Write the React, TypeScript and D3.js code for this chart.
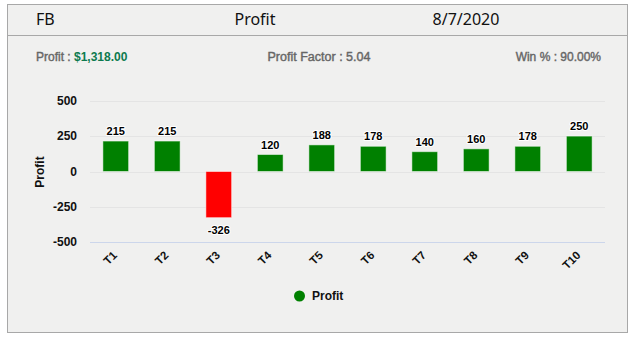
import React from "react";
import * as d3 from "d3";

const categories = ["T1", "T2", "T3", "T4", "T5", "T6", "T7", "T8", "T9", "T10"];
const profits = [215, 215, -326, 120, 188, 178, 140, 160, 178, 250];
const yTicks = [-500, -250, 0, 250, 500];
const headerLeft = "FB";
const headerTitle = "Profit";
const headerDate = "8/7/2020";
const statProfitLabel = "Profit : ";
const statProfitValue = "$1,318.00";
const statFactor = "Profit Factor : 5.04";
const statWin = "Win % : 90.00%";
const seriesName = "Profit";

const W = 634;
const H = 338;
const plotLeft = 90;
const plotRight = 605;
const green = "#008000";
const red = "#ff0000";

export default function App() {
  const x = d3.scaleBand<string>().domain(categories).range([plotLeft, plotRight]).paddingInner(0.5).paddingOuter(0.25);
  const y = d3.scaleLinear().domain([-500, 500]).range([242.3, 100.7]);
  const font = "'Liberation Sans', Arial, sans-serif";
  const headFont = "'Noto Sans', 'Open Sans', sans-serif";
  const y0 = y(0);

  return (
    <svg width={W} height={H} style={{ position: "absolute", left: 0, top: 0 }} fontFamily={font}>
      <rect x={0} y={0} width={W} height={H} fill="#ffffff" />
      <rect x={8} y={5} width={620} height={328} fill="#bdbdbd" />
      <rect x={7.5} y={4.5} width={620} height={328} fill="#f0f0ef" stroke="#a8a8a8" />
      <line x1={7} x2={628} y1={35.5} y2={35.5} stroke="#a8a8a8" />
      <text x={36} y={25} fontFamily={headFont} fontSize={16} fill="#111">{headerLeft}</text>
      <text x={255} y={25} fontFamily={headFont} fontSize={16} fill="#111" textAnchor="middle">{headerTitle}</text>
      <text x={466} y={25} fontFamily={headFont} fontSize={16} fill="#111" textAnchor="middle">{headerDate}</text>

      <g fontSize={12} fill="#666" stroke="#666" strokeWidth={0.4}>
        <text x={36} y={61}>
          {statProfitLabel}
          <tspan fill="#0d7a4e" stroke="#0d7a4e" fontWeight="bold" strokeWidth={0}>{statProfitValue}</tspan>
        </text>
        <text x={319} y={61} textAnchor="middle" textLength={103} lengthAdjust="spacingAndGlyphs">{statFactor}</text>
        <text x={601} y={61} textAnchor="end">{statWin}</text>
      </g>

      {yTicks.map((t) => (
        <g key={t}>
          {t !== -500 && (
            <line x1={plotLeft} x2={plotRight} y1={Math.round(y(t)) + 0.5} y2={Math.round(y(t)) + 0.5} stroke="#e4e4e4" />
          )}
          <text x={77} y={y(t) + 4} fontSize={12} fontWeight="bold" fill="#111" textAnchor="end">{t}</text>
        </g>
      ))}
      <line x1={plotLeft} x2={plotRight} y1={242.5} y2={242.5} stroke="#ccd6eb" />
      <text transform={`translate(44,172) rotate(-90)`} fontSize={12} fontWeight="bold" fill="#111" textAnchor="middle">Profit</text>

      {categories.map((c, i) => {
        const v = profits[i];
        const bx = x(c)!;
        const bw = x.bandwidth();
        const top = Math.min(y(v), y0);
        const h = Math.abs(y(v) - y0);
        const cx = bx + bw / 2;
        return (
          <g key={c}>
            <rect x={bx} y={top} width={bw} height={h} fill={v >= 0 ? green : red} stroke="#ffffff" strokeOpacity={0.5} strokeWidth={1} />
            <text
              x={cx}
              y={v >= 0 ? y(v) - 6 : y(v) + 16}
              fontSize={11}
              fontWeight="bold"
              fill="#000"
              textAnchor="middle"
              stroke="#ffffff"
              strokeWidth={2}
              paintOrder="stroke"
              strokeLinejoin="round"
            >
              {v}
            </text>
            <text
              transform={`translate(${cx + 2},${256}) rotate(-45)`}
              fontSize={11.5}
              fontWeight="bold"
              fill="#111"
              textAnchor="end"
            >
              {c}
            </text>
          </g>
        );
      })}

      <circle cx={299.5} cy={296} r={5.5} fill={green} />
      <text x={312} y={300} fontSize={12} fontWeight="bold" fill="#111">{seriesName}</text>
    </svg>
  );
}
